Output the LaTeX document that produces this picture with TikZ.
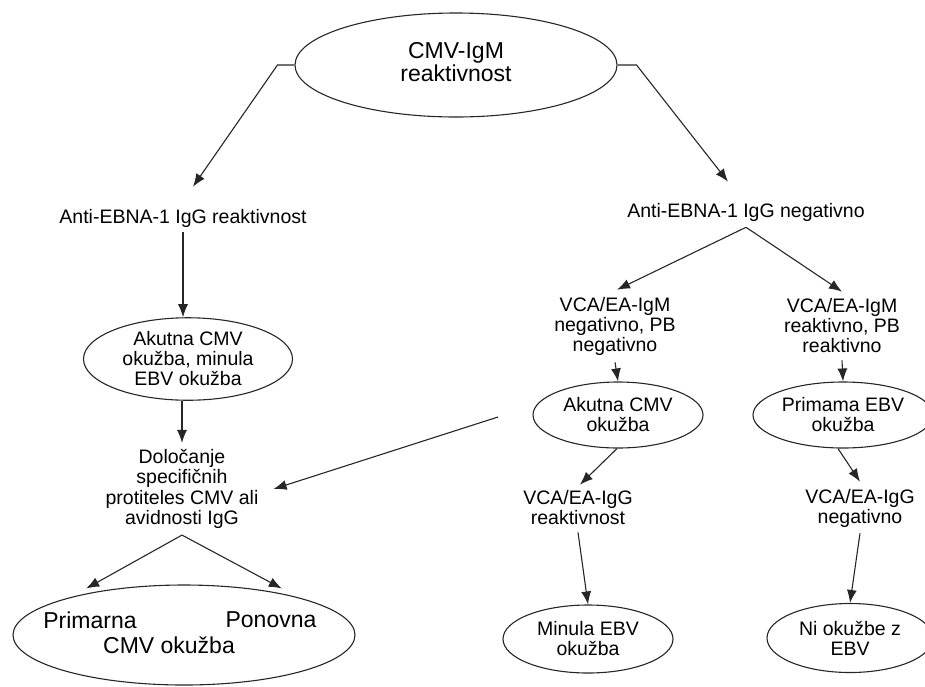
\documentclass[tikz,border=0pt]{standalone}
\usepackage{fontspec}
\setmainfont{Liberation Sans}
\usetikzlibrary{arrows.meta,shapes.geometric}
\begin{document}
\begin{tikzpicture}[x=1pt,y=-1pt,
  lbl/.style={align=center,inner sep=2pt,text=black,
    font=\fontsize{19.5}{20}\selectfont},
  biglbl/.style={align=center,inner sep=2pt,text=black,
    font=\fontsize{23}{23.5}\selectfont},
  oval/.style={ellipse,draw=black!85,line width=1.1pt,inner sep=0pt},
  arr/.style={draw=black!85,line width=1.1pt,-{Latex[length=13pt,width=10pt]}}]
\useasboundingbox (0,0) rectangle (925,686);

% root
\node[oval,minimum width=322,minimum height=104] (top) at (456,65) {};
\node[biglbl] (topt) at (456,62) {CMV-IgM\\reaktivnost};

% left branch
\node[lbl] (L1) at (183,218) {Anti-EBNA-1 IgG reaktivnost};
\node[oval,lbl,minimum width=209,minimum height=68] (L2) at (188,359)
  {Akutna CMV\\okužba, minula\\EBV okužba};
\node[lbl,font=\fontsize{19.5}{20.5}\selectfont] (L3) at (182,489)
  {Določanje\\specifičnih\\protiteles CMV ali\\avidnosti IgG};
\node[oval,minimum width=342,minimum height=100] (BL) at (184,635) {};
\node[biglbl] (BLa) at (90,620) {Primarna};
\node[biglbl] (BLb) at (271,620) {Ponovna};
\node[biglbl] (BLc) at (169,645) {CMV okužba};

% right branch
\node[lbl] (R1) at (746,212) {Anti-EBNA-1 IgG negativno};
\node[lbl] (R2a) at (615,326) {VCA/EA-IgM\\negativno, PB\\negativno};
\node[lbl] (R2b) at (842,326) {VCA/EA-IgM\\reaktivno, PB\\reaktivno};
\node[oval,lbl,minimum width=170,minimum height=66] (R3a) at (618,415)
  {Akutna CMV\\okužba};
\node[oval,lbl,minimum width=180,minimum height=66] (R3b) at (843,415)
  {Primama EBV\\okužba};
\node[lbl] (R4a) at (578,508) {VCA/EA-IgG\\reaktivnost};
\node[lbl] (R4b) at (860,508) {VCA/EA-IgG\\negativno};
\node[oval,lbl,minimum width=170,minimum height=68] (R5a) at (588,639)
  {Minula EBV\\okužba};
\node[oval,lbl,minimum width=166,minimum height=69] (R5b) at (850,638)
  {Ni okužbe z\\EBV};

\coordinate (fe) at (498,417);

% connectors
\draw[arr] (top.west) -- ++(-17,0) -- ([xshift=10pt,yshift=20pt]L1.north);
\draw[arr] (top.east) -- ++(19,0) -- ([xshift=-18pt,yshift=19pt]R1.north);
\draw[arr] ([yshift=-3pt]L1.south) -- (L1.south |- L2.north);
\draw[arr] (L3.north |- L2.south) -- ([yshift=4pt]L3.north);
\draw[arr] (fe) -- ([xshift=13pt]L3.east);
\draw[arr] ([yshift=-4pt]L3.south) -- ([yshift=5pt]BL.157);
\draw[arr] ([yshift=-4pt]L3.south) -- ([yshift=5pt]BL.23);

\draw[arr] ([yshift=-4pt]R1.south) -- ([xshift=2pt,yshift=5pt]R2a.north);
\draw[arr] ([yshift=-4pt]R1.south) -- ([yshift=5pt]R2b.north);
\draw[arr] ([yshift=-5pt]R2a.south) -- (R3a.north);
\draw[arr] ([yshift=-5pt]R2b.south) -- (R3b.north);
\draw[arr] ([xshift=-1pt]R3a.south) -- ([xshift=2pt,yshift=4pt]R4a.north);
\draw[arr] ([yshift=-5pt]R4a.south) -- (R5a.north);
\draw[arr] ([xshift=-5pt]R3b.south) -- ([yshift=5pt]R4b.north);
\draw[arr] ([yshift=-4pt]R4b.south) -- (R5b.north);
\end{tikzpicture}
\end{document}
